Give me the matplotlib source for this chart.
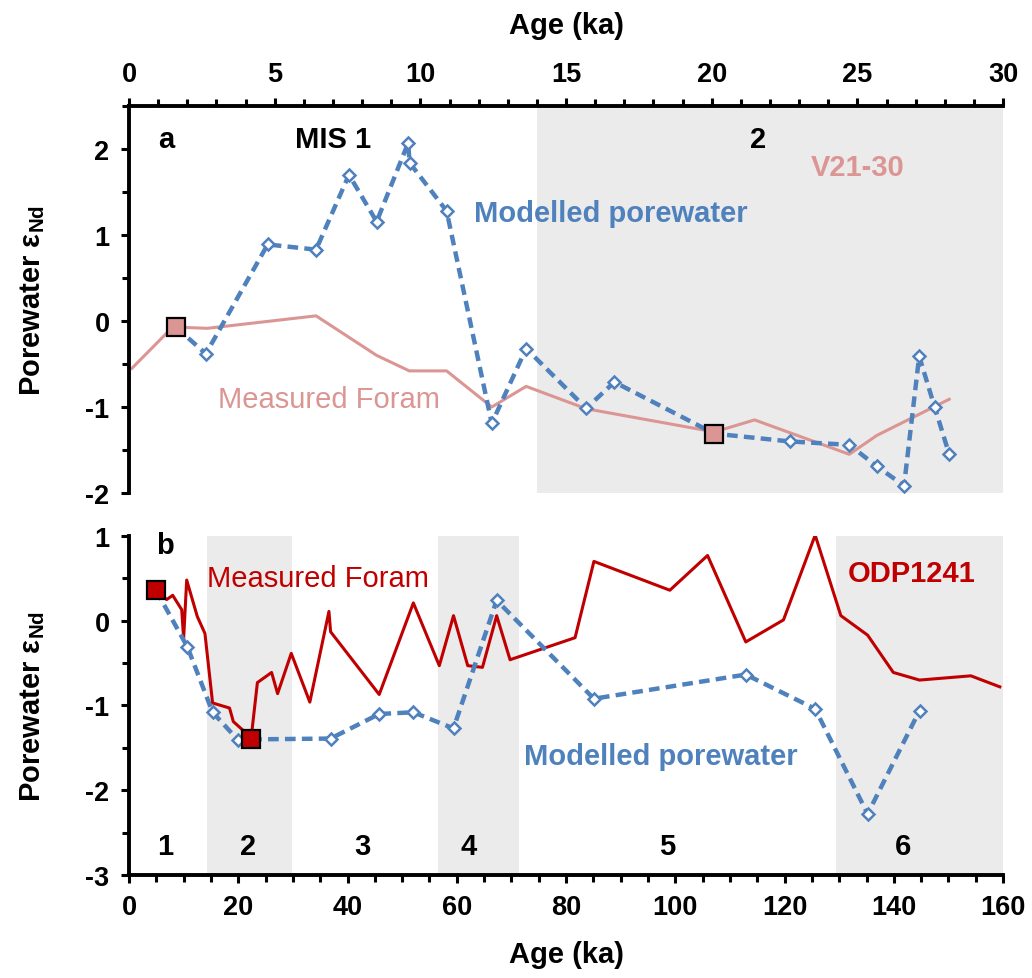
import matplotlib
matplotlib.use('Agg')
import matplotlib.pyplot as plt
from matplotlib.ticker import MultipleLocator

# ---------- data ----------
# a) V21-30, 0-30 ka
top_model_age = [1.6, 2.64, 4.76, 6.42, 7.55, 8.50, 9.58, 9.63, 10.9, 12.45, 13.63,
                 15.69, 16.66, 20.09, 22.67, 24.72, 25.67, 26.6, 27.12, 27.65, 28.15]
top_model_eps = [-0.07, -0.38, 0.89, 0.83, 1.70, 1.155, 2.07, 1.84, 1.28, -1.19, -0.32,
                 -1.015, -0.71, -1.31, -1.40, -1.44, -1.69, -1.915, -0.41, -1.00, -1.55]
top_foram_age = [0.1, 1.5, 2.69, 6.42, 8.50, 9.62, 10.9, 12.45, 13.63, 15.69,
                 20.09, 21.47, 24.72, 25.67, 28.15]
top_foram_eps = [-0.55, -0.07, -0.085, 0.06, -0.40, -0.58, -0.58, -1.00, -0.76, -1.02,
                 -1.29, -1.15, -1.55, -1.33, -0.91]
top_tie_age = [1.6, 20.09]
top_tie_eps = [-0.07, -1.31]

# b) ODP1241, 0-160 ka
bot_foram_age = [4.94, 6.9, 8.0, 9.65, 10.0, 10.56, 12.5, 13.9, 15.3, 18.4, 19.1, 21.0,
                 22.33, 23.5, 26.1, 27.2, 29.7, 33.1, 36.6, 36.9, 45.8, 52.05, 56.8,
                 59.4, 62.0, 64.7, 67.3, 69.75, 81.65, 85.1, 99.0, 105.9, 112.9, 119.8,
                 125.6, 130.3, 135.2, 139.9, 144.7, 154.1, 159.4]
bot_foram_eps = [0.36, 0.25, 0.30, 0.13, -0.21, 0.48, 0.05, -0.15, -0.97, -1.03, -1.19, -1.30,
                 -1.40, -0.73, -0.61, -0.86, -0.385, -0.96, 0.11, -0.13, -0.87, 0.21, -0.53,
                 0.06, -0.53, -0.55, 0.06, -0.46, -0.20, 0.70, 0.36, 0.77, -0.25, 0.01,
                 1.01, 0.06, -0.17, -0.61, -0.70, -0.65, -0.78]
bot_model_age = [4.94, 10.7, 15.3, 20.0, 22.33, 36.9, 45.8, 52.05, 59.4, 67.3,
                 85.1, 112.9, 125.6, 135.2, 144.7]
bot_model_eps = [0.36, -0.31, -1.08, -1.41, -1.40, -1.39, -1.10, -1.08, -1.27, 0.24,
                 -0.92, -0.635, -1.04, -2.28, -1.06]
bot_tie_age = [4.94, 22.33]
bot_tie_eps = [0.36, -1.40]

# glacial stages (shaded) and MIS labels
top_glacial = [(14.0, 30.0)]
bot_glacial = [(14.2, 29.8), (56.6, 71.4), (129.5, 160.0)]
bot_mis = ['1', '2', '3', '4', '5', '6']
bot_mis_age = [6.6, 21.8, 42.7, 62.2, 98.5, 141.7]

# ---------- style ----------
plt.rcParams['font.family'] = 'Liberation Sans'
plt.rcParams['font.weight'] = 'bold'
plt.rcParams['axes.labelweight'] = 'bold'
plt.rcParams['axes.unicode_minus'] = False
plt.rcParams['mathtext.fontset'] = 'custom'
plt.rcParams['mathtext.rm'] = 'Liberation Sans:bold'
plt.rcParams['mathtext.bf'] = 'Liberation Sans:bold'
plt.rcParams['mathtext.default'] = 'bf'

BLUE = '#4F81BD'
PINK = '#DB9694'
RED = '#C00000'
SHADE = '#EBEBEB'
TICK = 19.5
TXT = 21

fig = plt.figure(figsize=(10.32, 9.79), dpi=100)

def style_axis(ax, top):
    for s in ['right', 'top' if not top else 'bottom']:
        ax.spines[s].set_visible(False)
    for s in ['left', 'top' if top else 'bottom']:
        ax.spines[s].set_linewidth(2.8)
    ax.tick_params(which='both', direction='out', width=2.2, labelsize=TICK, pad=8)
    ax.tick_params(which='major', length=6)
    ax.tick_params(which='minor', length=5)
    ax.yaxis.set_major_locator(MultipleLocator(1))
    ax.yaxis.set_minor_locator(MultipleLocator(0.5))

# ========== Panel a ========== #
ax1 = fig.add_axes([0.125, 0.4954, 0.847, 0.3953])
ax1.set_xlim(0, 30)
ax1.set_ylim(-2, 2.5)
ax1.xaxis.tick_top()
ax1.xaxis.set_label_position('top')
ax1.xaxis.set_major_locator(MultipleLocator(5))
ax1.xaxis.set_minor_locator(MultipleLocator(1))
style_axis(ax1, True)
ax1.set_yticks([-2, -1, 0, 1, 2])
ax1.set_xlabel('Age (ka)', fontsize=TXT, labelpad=20)
ax1.set_ylabel('Porewater ε$_{Nd}$', fontsize=TXT, labelpad=28)

for a0, a1 in top_glacial:
    ax1.axvspan(a0, a1, color=SHADE, lw=0, zorder=0)
ax1.plot(top_foram_age, top_foram_eps, color=PINK, lw=2.2, zorder=2)
ax1.plot(top_model_age, top_model_eps, color=BLUE, lw=3.2, ls=(0, (2.4, 1.4)),
         marker='D', ms=6.5, mfc='white', mec=BLUE, mew=1.8, zorder=3)
ax1.plot(top_tie_age, top_tie_eps, ls='none', marker='s', ms=13, mfc=PINK,
         mec='black', mew=1.6, zorder=4)

ax1.text(1.0, 2.12, 'a', fontsize=TXT, ha='left', va='center')
ax1.text(7.0, 2.12, 'MIS 1', fontsize=TXT, ha='center', va='center')
ax1.text(21.6, 2.12, '2', fontsize=TXT, ha='center', va='center')
ax1.text(25.0, 1.79, 'V21-30', fontsize=TXT, color=PINK, ha='center', va='center')
ax1.text(16.55, 1.26, 'Modelled porewater', fontsize=TXT, color=BLUE, ha='center', va='center')
ax1.text(6.87, -0.91, 'Measured Foram', fontsize=TXT, color=PINK, fontweight='normal',
         ha='center', va='center')

# ========== Panel b ========== #
ax2 = fig.add_axes([0.125, 0.1052, 0.847, 0.3463])
ax2.set_xlim(0, 160)
ax2.set_ylim(-3, 1)
ax2.xaxis.set_major_locator(MultipleLocator(20))
ax2.xaxis.set_minor_locator(MultipleLocator(5))
style_axis(ax2, False)
ax2.set_xlabel('Age (ka)', fontsize=TXT, labelpad=14)
ax2.set_ylabel('Porewater ε$_{Nd}$', fontsize=TXT, labelpad=28)

for a0, a1 in bot_glacial:
    ax2.axvspan(a0, a1, color=SHADE, lw=0, zorder=0)
ax2.plot(bot_foram_age, bot_foram_eps, color=RED, lw=2.2, zorder=2)
ax2.plot(bot_model_age, bot_model_eps, color=BLUE, lw=3.2, ls=(0, (2.4, 1.4)),
         marker='D', ms=6.5, mfc='white', mec=BLUE, mew=1.8, zorder=3)
ax2.plot(bot_tie_age, bot_tie_eps, ls='none', marker='s', ms=13, mfc=RED,
         mec='black', mew=1.6, zorder=4)

for lab, age in zip(bot_mis, bot_mis_age):
    ax2.text(age, -2.66, lab, fontsize=TXT, ha='center', va='center')
ax2.text(5.0, 0.89, 'b', fontsize=TXT, ha='left', va='center')
ax2.text(34.6, 0.50, 'Measured Foram', fontsize=TXT, color=RED, fontweight='normal',
         ha='center', va='center')
ax2.text(143.3, 0.56, 'ODP1241', fontsize=TXT, color=RED, ha='center', va='center')
ax2.text(97.4, -1.60, 'Modelled porewater', fontsize=TXT, color=BLUE, ha='center', va='center')

fig.savefig('out.png', dpi=100)
